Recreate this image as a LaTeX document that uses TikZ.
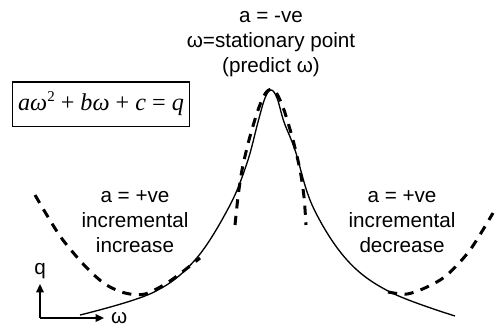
\documentclass[tikz,border=0pt]{standalone}
\usepackage{fontspec}
\setmainfont{Liberation Sans}
\newfontfamily\eqfont{Liberation Serif}
\usetikzlibrary{arrows.meta,positioning}

\begin{document}
\begin{tikzpicture}[
    x=0.6pt, y=-0.6pt,
    lbl/.style={align=center, font=\fontsize{12.4}{15}\selectfont, inner sep=0pt},
    eqbox/.style={draw, line width=0.7pt, minimum width=106pt, minimum height=26.5pt, inner sep=0pt, font=\eqfont\fontsize{14.5}{16}\selectfont},
    peak/.style={line width=0.8pt},
    guess/.style={line width=1.8pt, dash pattern=on 5.5pt off 4.5pt},
    axis/.style={-{Triangle[length=5pt,width=4.5pt]}, line width=1pt}
]
\useasboundingbox (0,0) rectangle (495,328);

% labels
\node[lbl] (top) at (271,44) {a = -ve\\ω=stationary point\\(predict ω)};
\node[lbl] (inc) at (135,222) {a = +ve\\incremental\\increase};
\node[lbl] (dec) at (402,222) {a = +ve\\incremental\\decrease};
\node[eqbox] (eq) at (101,104) {\itshape aω\raisebox{0.8ex}{\upshape\fontsize{9}{9}\selectfont 2} \upshape+ \itshape bω \upshape+ \itshape c \upshape= \itshape q};

% measured curve
\draw[peak] plot[smooth, tension=0.6] coordinates {(80,315) (152,293) (195,260) (229,207) (247,163) (258,122) (265,98) (271,90)
    (277,98) (284,122) (295,150) (313,207) (347,260) (390,292) (455,316)};

% fitted parabolas
\draw[guess] plot[smooth] coordinates {(35,195) (60,236) (85,266) (105,284) (125,293) (145,294) (170,281) (200,258)};
\draw[guess] plot[smooth] coordinates {(235,225) (238,197) (242,170) (249,140) (258,110) (265,94) (271,89)
    (277,94) (284,110) (293,140) (300,170) (304,197) (306,225)};
\draw[guess] plot[smooth] coordinates {(388,292) (407,294) (427,287) (447,275) (470,250) (493,213)};

% axes
\coordinate (o) at (40,318);
\coordinate (qend) at (40,284);
\coordinate (wend) at (104,318);
\draw[axis] (o) -- (qend);
\draw[axis] (o) -- (wend);
\node[lbl, above=3pt of qend] (q) {q};
\node[lbl, right=4pt of wend] (w) {ω};
\end{tikzpicture}
\end{document}
